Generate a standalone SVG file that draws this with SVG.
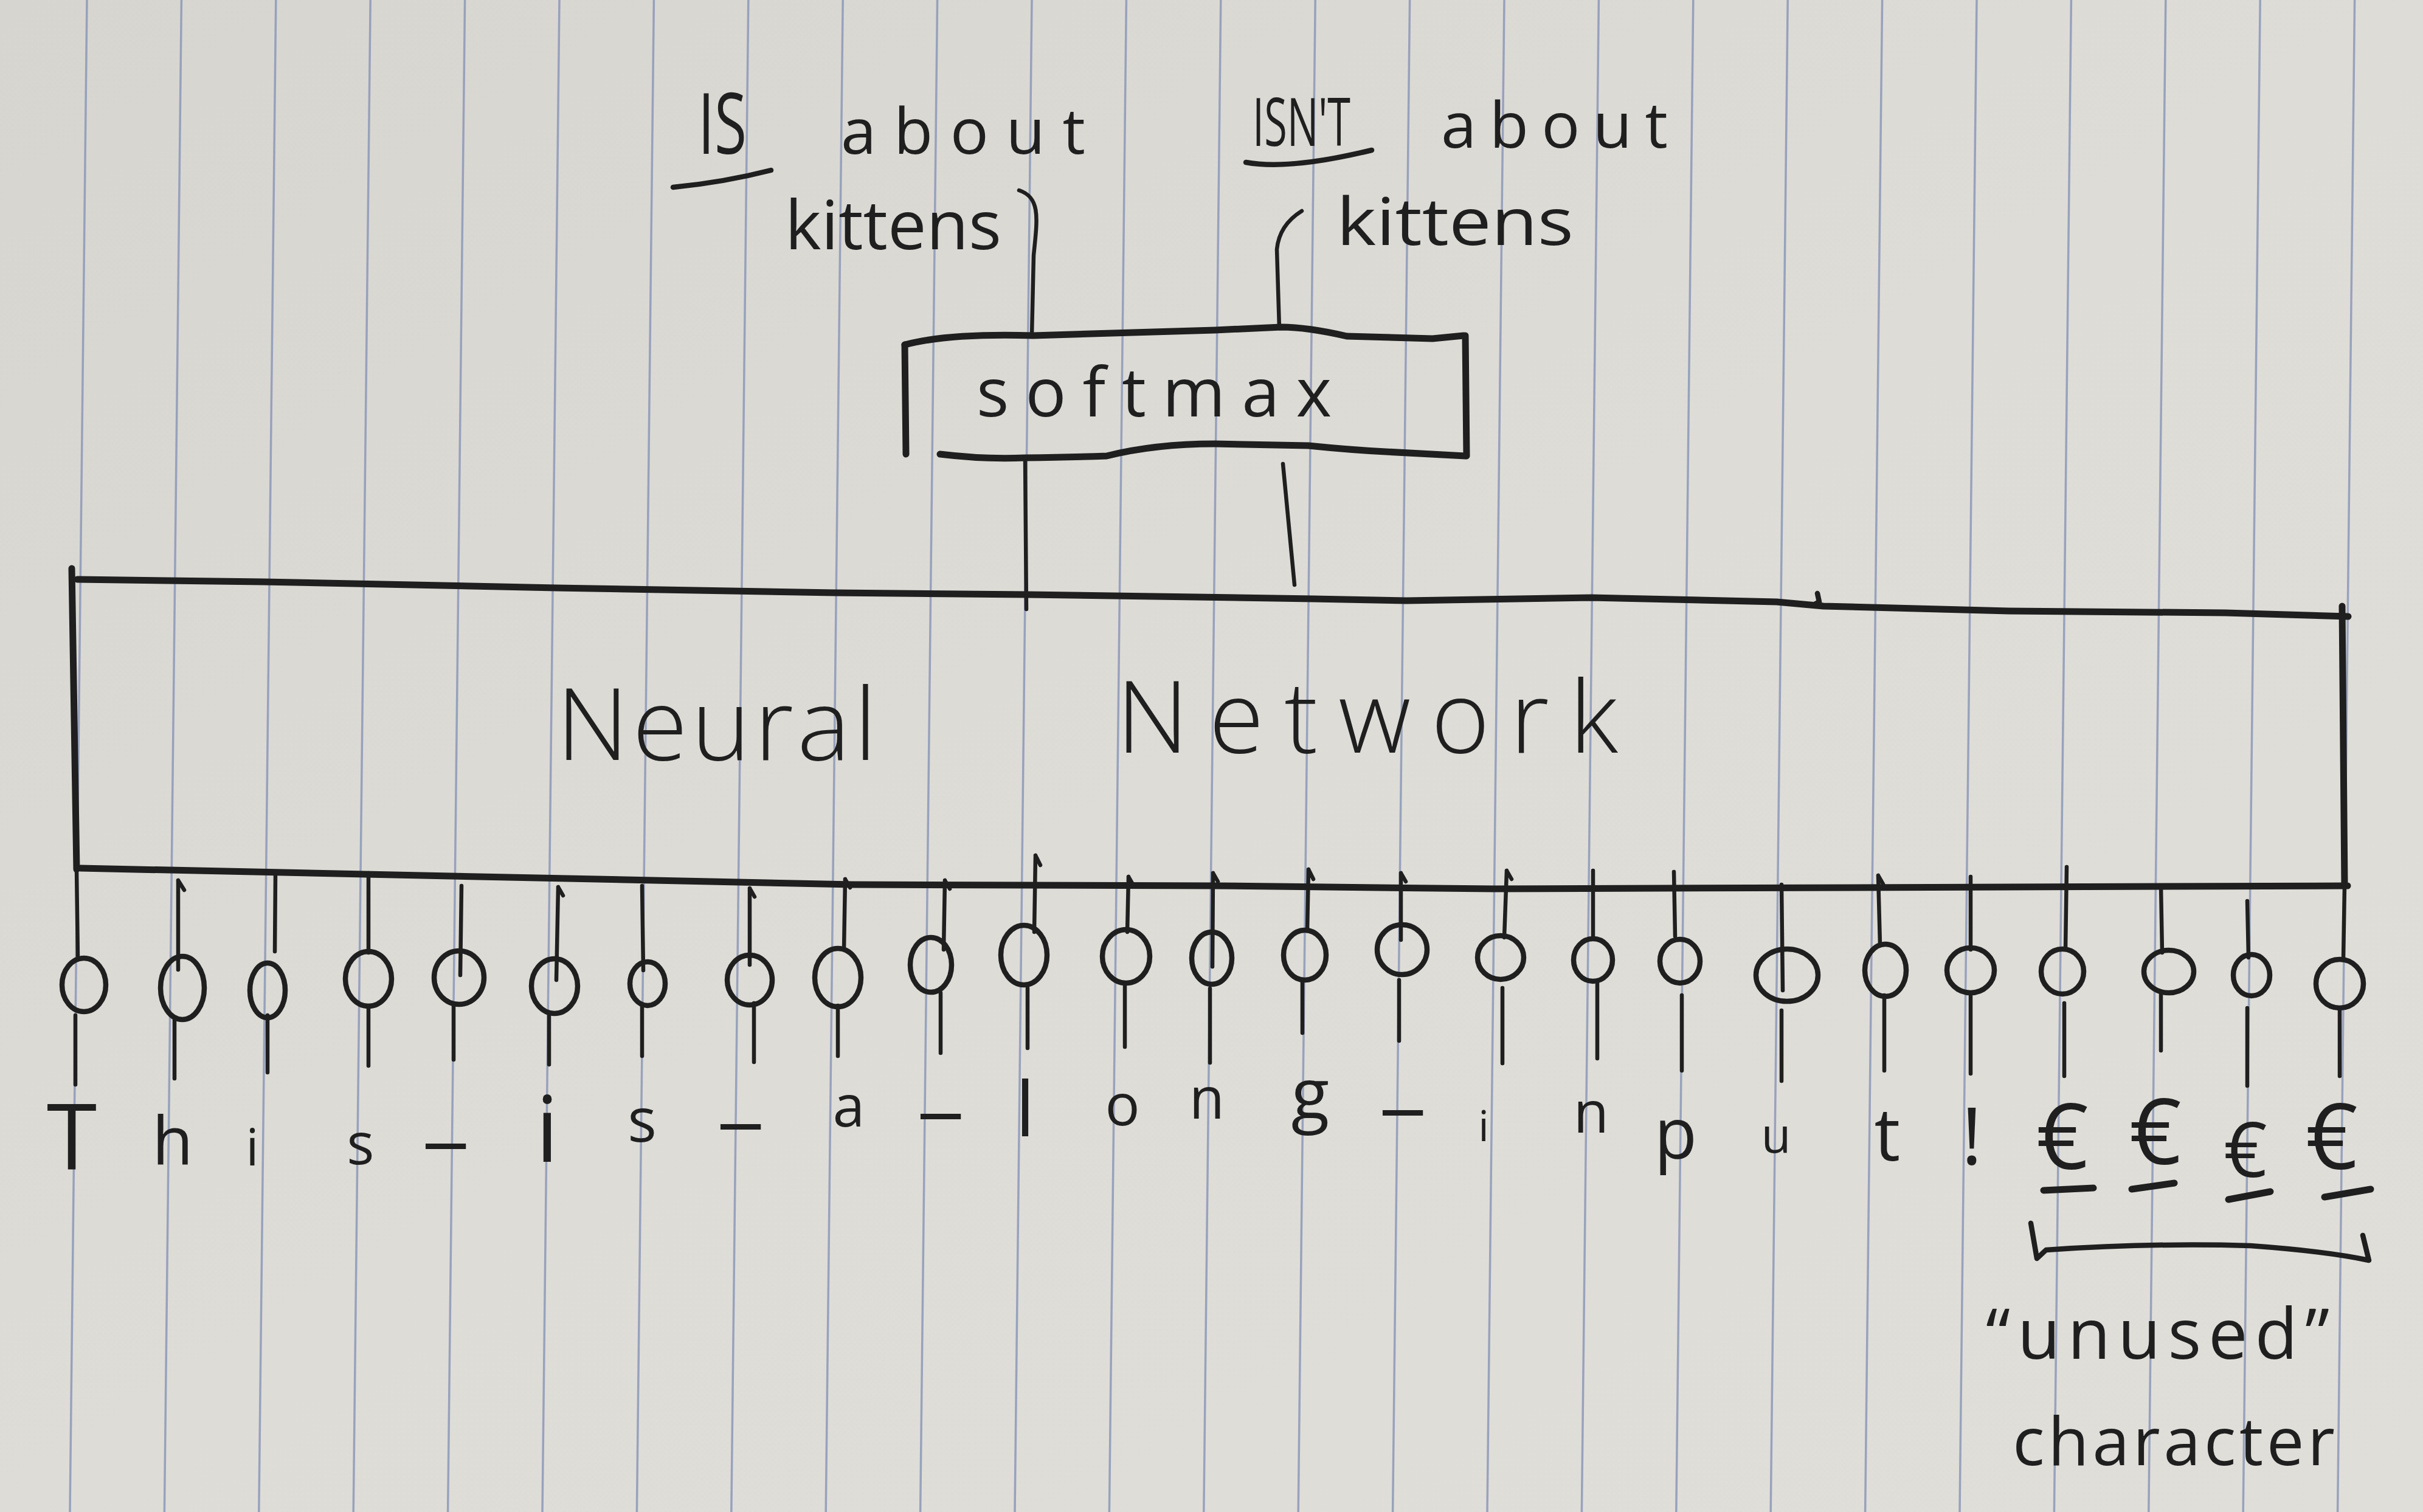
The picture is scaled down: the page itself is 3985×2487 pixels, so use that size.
<svg xmlns="http://www.w3.org/2000/svg" width="3985" height="2487" viewBox="0 0 3985 2487">
<defs>
<linearGradient id="paper" x1="0" y1="0" x2="1" y2="1">
<stop offset="0" stop-color="#d6d5d0"/>
<stop offset="0.5" stop-color="#dddcd7"/>
<stop offset="1" stop-color="#dfded9"/>
</linearGradient>
<style>
.rule{stroke:#8d98b8;stroke-width:3.5;opacity:0.85}
.ink{stroke:#1f1f1f;fill:none;stroke-linecap:round;stroke-linejoin:round}
.thick{stroke-width:11}
.med{stroke-width:8.5}
.thin{stroke-width:6.5}
.hand{font-family:'Open Sans','DejaVu Sans',sans-serif;font-weight:400;fill:#1f1f1f}
.big{font-weight:300}
.ch{text-anchor:middle}
</style>
</defs>
<g id="paper-bg">
<rect x="0" y="0" width="3985" height="2487" fill="url(#paper)"/>
<line class="rule" x1="143" y1="0" x2="115" y2="2487"/>
<line class="rule" x1="298.4" y1="0" x2="270.4" y2="2487"/>
<line class="rule" x1="453.8" y1="0" x2="425.8" y2="2487"/>
<line class="rule" x1="609.2" y1="0" x2="581.2" y2="2487"/>
<line class="rule" x1="764.6" y1="0" x2="736.6" y2="2487"/>
<line class="rule" x1="920" y1="0" x2="892" y2="2487"/>
<line class="rule" x1="1075.4" y1="0" x2="1047.4" y2="2487"/>
<line class="rule" x1="1230.8" y1="0" x2="1202.8" y2="2487"/>
<line class="rule" x1="1386.2" y1="0" x2="1358.2" y2="2487"/>
<line class="rule" x1="1541.6" y1="0" x2="1513.6" y2="2487"/>
<line class="rule" x1="1697" y1="0" x2="1669" y2="2487"/>
<line class="rule" x1="1852.4" y1="0" x2="1824.4" y2="2487"/>
<line class="rule" x1="2007.8" y1="0" x2="1979.8" y2="2487"/>
<line class="rule" x1="2163.2" y1="0" x2="2135.2" y2="2487"/>
<line class="rule" x1="2318.6" y1="0" x2="2290.6" y2="2487"/>
<line class="rule" x1="2474" y1="0" x2="2446" y2="2487"/>
<line class="rule" x1="2629.4" y1="0" x2="2601.4" y2="2487"/>
<line class="rule" x1="2784.8" y1="0" x2="2756.8" y2="2487"/>
<line class="rule" x1="2940.2" y1="0" x2="2912.2" y2="2487"/>
<line class="rule" x1="3095.6" y1="0" x2="3067.6" y2="2487"/>
<line class="rule" x1="3251" y1="0" x2="3223" y2="2487"/>
<line class="rule" x1="3406.4" y1="0" x2="3378.4" y2="2487"/>
<line class="rule" x1="3561.8" y1="0" x2="3533.8" y2="2487"/>
<line class="rule" x1="3717.2" y1="0" x2="3689.2" y2="2487"/>
<line class="rule" x1="3872.6" y1="0" x2="3844.6" y2="2487"/>
</g>

<g id="label-is-about-kittens">
<text class="hand" x="1148" y="253" font-size="140" textLength="80" lengthAdjust="spacingAndGlyphs">IS</text>
<path class="ink med" d="M1107,308 Q1190,300 1268,280"/>
<text class="hand" x="1383" y="253" font-size="105" textLength="402" lengthAdjust="spacing">about</text>
<text class="hand" x="1291" y="410" font-size="112" textLength="356" lengthAdjust="spacingAndGlyphs">kittens</text>
</g>

<g id="label-isnt-about-kittens">
<text class="hand" x="2060" y="240" font-size="110" textLength="161" lengthAdjust="spacingAndGlyphs">ISN'T</text>
<path class="ink med" d="M2049,267 Q2120,280 2256,247"/>
<text class="hand" x="2370" y="243" font-size="105" textLength="373" lengthAdjust="spacing">about</text>
<text class="hand" x="2198" y="403" font-size="108" textLength="390" lengthAdjust="spacingAndGlyphs">kittens</text>
</g>

<g id="softmax">
<path class="ink thick" d="M1488,567 L1490,747"/>
<path class="ink thick" d="M1488,567 Q1560,548 1699,552 L1998,543 L2107,538 Q2150,538 2215,553 L2356,557 L2407,552"/>
<path class="ink thick" d="M2410,552 L2412,750"/>
<path class="ink thick" d="M1546,747 Q1620,756 1686,753 Q1760,752 1820,750 Q1900,730 1998,730 L2152,733 Q2220,740 2279,743 L2410,750"/>
<text class="hand" x="1606" y="685" font-size="112" textLength="584" lengthAdjust="spacing">softmax</text>
</g>

<g id="neural-network">
<path class="ink thick" d="M118,935 L126,1430"/>
<path class="ink thick" d="M127,953 L432,957 L915,967 L1372,975 L1690,978 L2160,985 L2313,988 L2617,983 L2922,990 L2999,997 L3304,1005 L3660,1008 L3862,1014"/>
<path class="ink med" d="M2980,996 L2992,990 L2989,976"/>
<path class="ink thick" d="M3852,997 L3856,1457"/>
<path class="ink thick" d="M132,1428 L600,1438 L1403,1455 L2000,1457 L2456,1462 L3861,1457"/>
<text class="hand big" x="915" y="1250" font-size="165" textLength="527" lengthAdjust="spacing">Neural</text>
<text class="hand big" x="1836" y="1238" font-size="165" textLength="825" lengthAdjust="spacing">Network</text>
</g>

<g id="inputs">
<g id="input-0"><ellipse class="ink med" cx="138" cy="1620" rx="36" ry="44"/><text class="hand ch" x="118" y="1923" font-size="150">T</text></g>
<g id="input-1"><ellipse class="ink med" cx="300" cy="1625" rx="36" ry="52"/><text class="hand ch" x="284" y="1915" font-size="110">h</text></g>
<g id="input-2"><ellipse class="ink med" cx="440" cy="1629" rx="29" ry="45"/><text class="hand ch" x="415" y="1917" font-size="85">i</text></g>
<g id="input-3"><ellipse class="ink med" cx="606" cy="1610" rx="38" ry="45"/><text class="hand ch" x="593" y="1915" font-size="95">s</text></g>
<g id="input-4"><ellipse class="ink med" cx="755" cy="1608" rx="41" ry="44"/><text class="hand ch" x="733" y="1867" font-size="150">_</text></g>
<g id="input-5"><ellipse class="ink med" cx="912" cy="1622" rx="38" ry="45"/><text class="hand ch" x="900" y="1911" font-size="150">i</text></g>
<g id="input-6"><ellipse class="ink med" cx="1065" cy="1618" rx="29" ry="36"/><text class="hand ch" x="1056" y="1878" font-size="100">s</text></g>
<g id="input-7"><ellipse class="ink med" cx="1233" cy="1612" rx="37" ry="41"/><text class="hand ch" x="1218" y="1835" font-size="150">_</text></g>
<g id="input-8"><ellipse class="ink med" cx="1378" cy="1608" rx="38" ry="48"/><text class="hand ch" x="1396" y="1853" font-size="95">a</text></g>
<g id="input-9"><ellipse class="ink med" cx="1531" cy="1587" rx="34" ry="45"/><text class="hand ch" x="1547" y="1818" font-size="150">_</text></g>
<g id="input-10"><ellipse class="ink med" cx="1684" cy="1571" rx="38" ry="49"/><text class="hand ch" x="1686" y="1869" font-size="125">l</text></g>
<g id="input-11"><ellipse class="ink med" cx="1852" cy="1573" rx="39" ry="44"/><text class="hand ch" x="1846" y="1851" font-size="95">o</text></g>
<g id="input-12"><ellipse class="ink med" cx="1993" cy="1576" rx="33" ry="43"/><text class="hand ch" x="1985" y="1840" font-size="95">n</text></g>
<g id="input-13"><ellipse class="ink med" cx="2146" cy="1571" rx="35" ry="41"/><text class="hand ch" x="2155" y="1840" font-size="115">g</text></g>
<g id="input-14"><ellipse class="ink med" cx="2306" cy="1562" rx="41" ry="41"/><text class="hand ch" x="2307" y="1812" font-size="150">_</text></g>
<g id="input-15"><ellipse class="ink med" cx="2468" cy="1575" rx="38" ry="36"/><text class="hand ch" x="2440" y="1877" font-size="70">i</text></g>
<g id="input-16"><ellipse class="ink med" cx="2620" cy="1579" rx="32" ry="35"/><text class="hand ch" x="2617" y="1863" font-size="95">n</text></g>
<g id="input-17"><ellipse class="ink med" cx="2763" cy="1581" rx="33" ry="36"/><text class="hand ch" x="2756" y="1905" font-size="115">p</text></g>
<g id="input-18"><ellipse class="ink med" cx="2939" cy="1604" rx="51" ry="43"/><text class="hand ch" x="2921" y="1896" font-size="80">u</text></g>
<g id="input-19"><ellipse class="ink med" cx="3101" cy="1596" rx="34" ry="43"/><text class="hand ch" x="3104" y="1909" font-size="120">t</text></g>
<g id="input-20"><ellipse class="ink med" cx="3241" cy="1596" rx="39" ry="37"/><text class="hand ch" x="3243" y="1915" font-size="130">!</text></g>
<g id="input-21"><ellipse class="ink med" cx="3392" cy="1598" rx="35" ry="37"/><text class="hand ch" x="3392" y="1923" font-size="150">€</text><line class="ink thick" x1="3361" y1="1958" x2="3443" y2="1954"/></g>
<g id="input-22"><ellipse class="ink med" cx="3567" cy="1598" rx="41" ry="35"/><text class="hand ch" x="3545" y="1915" font-size="150">€</text><line class="ink thick" x1="3506" y1="1956" x2="3576" y2="1946"/></g>
<g id="input-23"><ellipse class="ink med" cx="3703" cy="1604" rx="30" ry="34"/><text class="hand ch" x="3693" y="1936" font-size="125">€</text><line class="ink thick" x1="3665" y1="1973" x2="3734" y2="1960"/></g>
<g id="input-24"><ellipse class="ink med" cx="3848" cy="1618" rx="39" ry="40"/><text class="hand ch" x="3835" y="1923" font-size="150">€</text><line class="ink thick" x1="3823" y1="1969" x2="3899" y2="1956"/></g>
</g>

<g id="unused-note">
<path class="ink med" d="M3340,2012 L3350,2070 L3365,2056 Q3540,2044 3701,2049 Q3826,2058 3896,2073 L3886,2032"/>
<text class="hand" x="3266" y="2235" font-size="115" textLength="565" lengthAdjust="spacing">“unused”</text>
<text class="hand" x="3310" y="2410" font-size="110" textLength="530" lengthAdjust="spacing">character</text>
</g>

<g id="connectors" class="ink thin">
<path d="M1676,313 C1712,325 1706,360 1700,420 L1697,552"/>
<path d="M2141,347 Q2104,370 2100,410 L2104,540"/>
<path d="M1686,753 L1688,1002"/>
<path d="M2110,763 L2129,962"/>
<path d="M126,1430 L128,1576"/>
<path d="M3856,1457 L3854,1578"/>
<path d="M293,1448 L293,1595 M293,1448 l10,16"/>
<path d="M453,1438 L452,1565"/>
<path d="M606,1436 L606,1567"/>
<path d="M759,1457 L757,1604"/>
<path d="M918,1459 L915,1612 M918,1459 l8,14"/>
<path d="M1056,1457 L1058,1596"/>
<path d="M1233,1461 L1233,1587 M1233,1461 l8,14"/>
<path d="M1390,1446 L1388,1562 M1390,1446 l8,14"/>
<path d="M1554,1448 L1552,1562 M1554,1448 l8,14"/>
<path d="M1703,1407 L1701,1533 M1703,1407 l8,16"/>
<path d="M1856,1442 L1854,1533 M1856,1442 l8,14"/>
<path d="M1995,1436 L1994,1590 M1995,1436 l8,14"/>
<path d="M2152,1430 L2150,1530 M2152,1430 l8,16"/>
<path d="M2304,1436 L2304,1546 M2304,1436 l8,14"/>
<path d="M2478,1432 L2474,1542 M2478,1432 l8,14"/>
<path d="M2620,1432 L2620,1544"/>
<path d="M2753,1434 L2755,1540"/>
<path d="M2930,1455 L2932,1629"/>
<path d="M3089,1440 L3092,1554 M3089,1440 l8,14"/>
<path d="M3241,1442 L3241,1562"/>
<path d="M3399,1426 L3397,1562"/>
<path d="M3554,1457 L3556,1567"/>
<path d="M3696,1482 L3698,1575"/>
<path d="M124,1670 L124,1784"/>
<path d="M287,1676 L287,1774"/>
<path d="M440,1670 L440,1764"/>
<path d="M606,1654 L606,1753"/>
<path d="M746,1652 L746,1743"/>
<path d="M903,1666 L903,1751"/>
<path d="M1056,1654 L1056,1737"/>
<path d="M1240,1650 L1240,1747"/>
<path d="M1378,1654 L1378,1737"/>
<path d="M1547,1633 L1547,1732"/>
<path d="M1690,1625 L1690,1724"/>
<path d="M1850,1618 L1850,1722"/>
<path d="M1990,1626 L1990,1748"/>
<path d="M2142,1612 L2142,1699"/>
<path d="M2301,1612 L2301,1712"/>
<path d="M2471,1625 L2471,1749"/>
<path d="M2627,1616 L2627,1741"/>
<path d="M2766,1637 L2766,1761"/>
<path d="M2930,1662 L2930,1778"/>
<path d="M3099,1637 L3099,1761"/>
<path d="M3241,1637 L3241,1766"/>
<path d="M3395,1650 L3395,1770"/>
<path d="M3554,1633 L3554,1728"/>
<path d="M3696,1658 L3696,1786"/>
<path d="M3848,1662 L3848,1770"/>
</g>
</svg>
